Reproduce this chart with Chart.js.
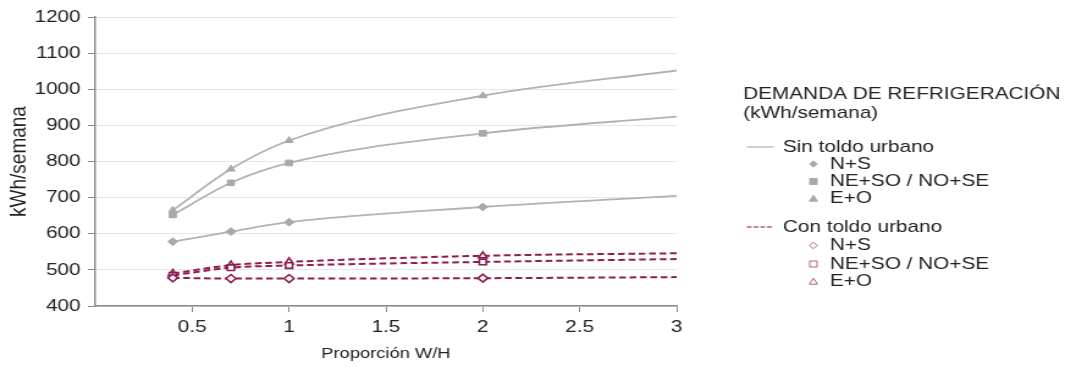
<!DOCTYPE html>
<html>
<head>
<meta charset="utf-8">
<script src="https://cdn.jsdelivr.net/npm/chart.js@4"></script>
<style>
  body { margin: 0; background: #fff; }
</style>
</head>
<body>
<canvas id="c" width="872" height="371" style="display:block;width:1065px;height:371px"></canvas>
<script>
// W/H ratio (last point is only the end of the curve, no marker)
const ratios = [0.4, 0.7, 1, 2, 3];

// Sin toldo urbano
const sinNS = [578, 606, 632, 674, 705];
const sinNE = [652, 741, 796, 878, 924];
const sinEO = [665, 779, 858, 982, 1052];

// Con toldo urbano
const conNS = [478, 476, 476, 477, 480];
const conNE = [485, 506, 512, 522, 530];
const conEO = [490, 513, 522, 539, 546];

const xTicks = [0.5, 1, 1.5, 2, 2.5, 3];

const GRAY = '#b2b2b2';
const GRAY_PT = '#a9a9a9';
const RED = '#8c1d4f';
const FONT = '"Liberation Sans", Arial, sans-serif';

const pts = arr => arr.map((v, i) => ({ x: ratios[i], y: v }));
const radii = [4, 4, 4, 4, 0];

const sinSet = (label, vals, style) => ({
  label: label, data: pts(vals),
  borderColor: GRAY, borderWidth: 1.8,
  pointStyle: style, pointRadius: radii, pointHoverRadius: radii,
  pointBackgroundColor: GRAY_PT, pointBorderColor: GRAY_PT, pointBorderWidth: 1,
  cubicInterpolationMode: 'monotone'
});
const conSet = (label, vals, style) => ({
  label: label, data: pts(vals),
  borderColor: RED, borderWidth: 2, borderDash: [5.5, 3],
  pointStyle: style, pointRadius: radii, pointHoverRadius: radii,
  pointBackgroundColor: '#fff', pointBorderColor: RED, pointBorderWidth: 1.6,
  cubicInterpolationMode: 'monotone'
});

// legend drawn on the right side
const sideLegend = {
  id: 'sideLegend',
  afterDraw(chart) {
    const ctx = chart.ctx;
    ctx.save();
    ctx.font = '17px ' + FONT;
    ctx.fillStyle = '#222';
    ctx.textBaseline = 'middle';
    ctx.textAlign = 'left';
    ctx.fillText('DEMANDA DE REFRIGERACIÓN', 608.5, 94);
    ctx.fillText('(kWh/semana)', 608.5, 113);

    const groups = [
      { title: 'Sin toldo urbano', y: 147, dash: [], col: '#b8b8b8', fill: GRAY_PT, ys: [164, 181.5, 198.5] },
      { title: 'Con toldo urbano', y: 227, dash: [4, 1.5], col: '#b0608a', fill: '#fff', ys: [245.5, 264, 281.5] }
    ];
    const names = ['N+S', 'NE+SO / NO+SE', 'E+O'];
    const styles = ['rectRot', 'rect', 'triangle'];
    groups.forEach(g => {
      ctx.strokeStyle = g.col;
      ctx.lineWidth = 1.3;
      ctx.setLineDash(g.dash);
      ctx.beginPath();
      ctx.moveTo(611.5, g.y);
      ctx.lineTo(633.5, g.y);
      ctx.stroke();
      ctx.setLineDash([]);
      ctx.fillStyle = '#222';
      ctx.fillText(g.title, 641, g.y);
      g.ys.forEach((yy, i) => {
        ctx.fillStyle = g.fill;
        ctx.strokeStyle = g.fill === '#fff' ? g.col : g.fill;
        ctx.lineWidth = 1;
        ctx.beginPath();
        if (styles[i] === 'rectRot') {
          ctx.moveTo(666, yy - 3.2); ctx.lineTo(669.2, yy); ctx.lineTo(666, yy + 3.2); ctx.lineTo(662.8, yy);
        } else if (styles[i] === 'rect') {
          ctx.rect(663, yy - 3, 6, 6);
        } else {
          ctx.moveTo(666, yy - 3.3); ctx.lineTo(669.3, yy + 2.7); ctx.lineTo(662.7, yy + 2.7);
        }
        ctx.closePath();
        ctx.fill();
        ctx.stroke();
        ctx.fillStyle = '#222';
        ctx.fillText(names[i], 679.5, yy);
      });
    });
    ctx.restore();
  }
};

new Chart(document.getElementById('c'), {
  type: 'line',
  data: {
    datasets: [
      sinSet('Sin toldo urbano N+S', sinNS, 'rectRot'),
      sinSet('Sin toldo urbano NE+SO / NO+SE', sinNE, 'rect'),
      sinSet('Sin toldo urbano E+O', sinEO, 'triangle'),
      conSet('Con toldo urbano N+S', conNS, 'rectRot'),
      conSet('Con toldo urbano NE+SO / NO+SE', conNE, 'rect'),
      conSet('Con toldo urbano E+O', conEO, 'triangle')
    ]
  },
  options: {
    responsive: false,
    animation: false,
    devicePixelRatio: 1,
    layout: { padding: { top: 17, right: 318, bottom: 0, left: 0 } },
    plugins: { legend: { display: false }, tooltip: { enabled: false } },
    scales: {
      x: {
        type: 'linear',
        min: 0, max: 3,
        afterBuildTicks: s => { s.ticks = xTicks.map(v => ({ value: v })); },
        afterFit: s => { s.height = 65; },
        grid: { drawOnChartArea: false, drawTicks: true, tickLength: 6, tickColor: '#8a8a8a' },
        border: { color: '#8a8a8a', width: 1.5 },
        ticks: { color: '#222', font: { family: FONT, size: 17 }, padding: 5, callback: v => String(v) },
        title: { display: true, text: 'Proporción W/H', color: '#222', font: { family: FONT, size: 15 }, padding: { top: 2, bottom: 8 } }
      },
      y: {
        min: 400, max: 1200,
        ticks: { stepSize: 100, color: '#222', font: { family: FONT, size: 17 }, padding: 6, callback: v => String(v) },
        afterFit: s => { s.width = 78; },
        grid: { color: '#e6e6e6', tickColor: '#8a8a8a', tickLength: 6 },
        border: { color: '#8a8a8a', width: 1.5 },
        title: { display: true, text: 'kWh/semana', color: '#222', font: { family: FONT, size: 19 }, padding: { top: 4, bottom: 0 } }
      }
    }
  },
  plugins: [sideLegend]
});
</script>
</body>
</html>
